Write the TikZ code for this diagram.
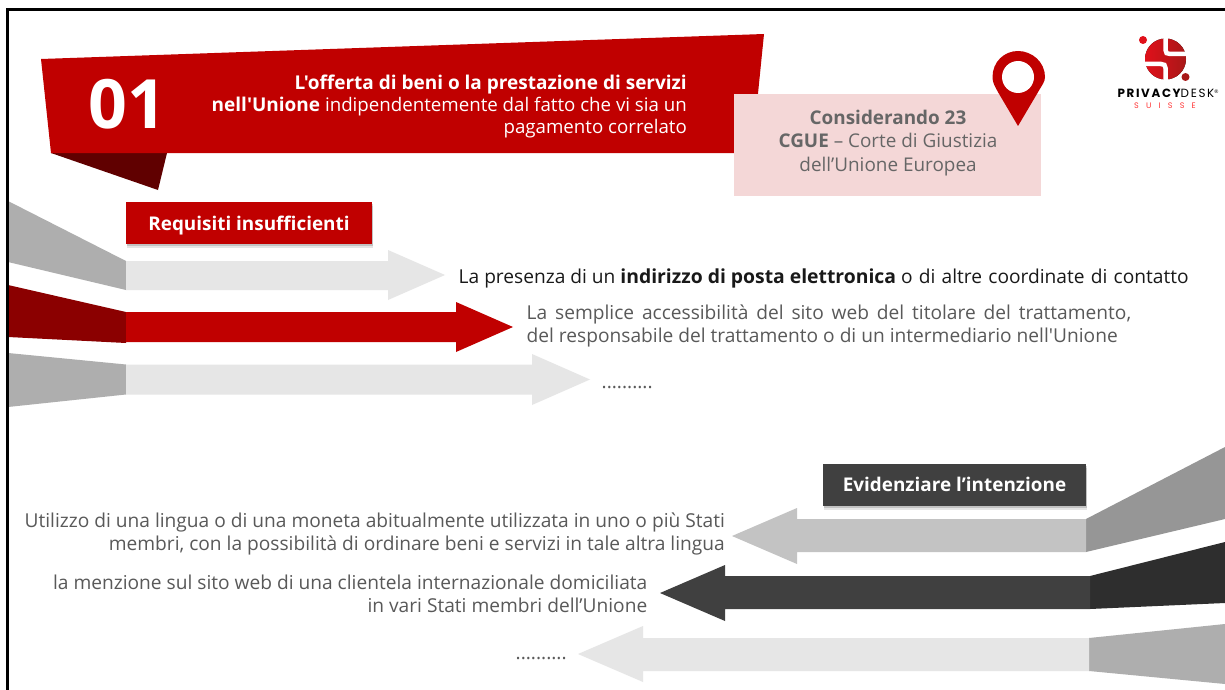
\documentclass[tikz,border=0pt]{standalone}
\usepackage{fontspec}
\setmainfont{Open Sans}[Ligatures=TeXOff]
\newfontfamily\logofont[LetterSpace=14]{Poppins}
\newfontfamily\logofontb[LetterSpace=90]{Poppins}
\usetikzlibrary{shadows}
\definecolor{bred}{HTML}{C00000}
\definecolor{dred}{HTML}{8B0000}
\definecolor{fold}{HTML}{600000}
\definecolor{pinkbg}{HTML}{F4D7D7}
\definecolor{lgray}{HTML}{E6E6E6}
\definecolor{mgray}{HTML}{AEAEAE}
\definecolor{sgray}{HTML}{C3C3C3}
\definecolor{tgray}{HTML}{969696}
\definecolor{dgray}{HTML}{404040}
\definecolor{xgray}{HTML}{2E2E2E}
\definecolor{txt}{HTML}{595959}
\definecolor{txtb}{HTML}{666666}
\definecolor{logoa}{HTML}{E0101A}
\definecolor{logob}{HTML}{A81818}
\tikzset{
  x=1pt,y=-1pt,
  lab/.style={font=\fontsize{19.15}{22.4}\selectfont,inner sep=0pt},
  darktxt/.style={lab,text=txt},
  tagbox/.style={minimum height=42pt,inner sep=0pt,text=white,font=\fontsize{18.9}{22}\selectfont\bfseries,
    drop shadow={shadow xshift=1pt,shadow yshift=-3.5pt,opacity=.1,fill=black},
    drop shadow={shadow xshift=.5pt,shadow yshift=-2pt,opacity=.15,fill=black}},
}
\begin{document}
\begin{tikzpicture}
\useasboundingbox (0,0) rectangle (1225,690);
\fill[white] (0,0) rectangle (1225,690);
% banner
\fill[fold] (51,153) -- (167,153) -- (158,190) -- cycle;
\fill[bred] (41,59) -- (764,34) -- (752,153) -- (51,153) -- cycle;
\node[text=white,font=\fontsize{68}{68}\selectfont\bfseries,inner sep=0pt] (num) at (127,104.5) {01};
\node[lab,text=white,align=right,anchor=east,font=\fontsize{18.7}{22}\selectfont] (title) at (687,106)
  {{\fontsize{19}{22}\selectfont\bfseries L'offerta di beni o la prestazione di servizi}\\
   {\fontsize{19}{22}\selectfont\bfseries nell'Unione} indipendentemente dal fatto che vi sia un\\
   pagamento correlato};
% pink box and pin
\fill[pinkbg] (734,94) rectangle (1040.5,195.5);
\node[lab,text=txtb,align=center,font=\fontsize{18.9}{23.5}\selectfont] (cons) at (888,143)
  {\textbf{Considerando 23}\\ \textbf{CGUE} – Corte di Giustizia\\ dell’Unione Europea};
\fill[bred] (1018,126) -- (998.5,93) .. controls (994,85) and (992.5,82) .. (992.5,77)
  .. controls (992.5,62) and (1004,51) .. (1018,51)
  .. controls (1032,51) and (1045,62) .. (1045,77)
  .. controls (1045,82) and (1042,85) .. (1037.5,93) -- cycle;
\fill[white] (1018,77) circle[radius=16];
% logo
\fill[left color=logoa,right color=logob] (1165.5,59) circle[radius=20.5];
\fill[logoa] (1143,40) circle[radius=4];
\fill[logob] (1185.5,77) circle[radius=4];
\draw[white,line width=4.5pt] (1165.5,36) -- (1165.5,50) .. controls (1165.5,53) and (1167,54) .. (1170,54) -- (1189,54);
\draw[white,line width=4.5pt] (1142,64) -- (1161,64) .. controls (1164,64) and (1165.5,65) .. (1165.5,68) -- (1165.5,82);
\node[inner sep=0pt,font=\fontsize{11.9}{12}\selectfont,anchor=base] (logotxt) at (1168,97.5)
  {{\logofont\bfseries PRIVACY}{\logofont DESK}\raisebox{4pt}{\fontsize{5}{5}\selectfont ®}};
\node[inner sep=0pt,text=red!80,font=\fontsize{8}{8}\selectfont,anchor=base] (logosub) at (1165,108.5)
  {\logofontb SUISSE};
% upper arrows
\fill[mgray] (8,201) -- (126,261) -- (126,290) -- (8,262) -- cycle;
\fill[lgray] (126,261) -- (388,261) -- (388,250) -- (445,275) -- (388,300) -- (388,290) -- (126,290) -- cycle;
\fill[dred] (8,285) -- (126,312) -- (126,343) -- (8,337) -- cycle;
\fill[bred] (126,312) -- (456,312) -- (456,302) -- (513,327) -- (456,352) -- (456,342) -- (126,342) -- cycle;
\fill[mgray] (8,353) -- (126,364.5) -- (126,394.5) -- (8,407) -- cycle;
\fill[lgray] (126,364.5) -- (532,364.5) -- (532,354) -- (590,379.5) -- (532,405) -- (532,394.5) -- (126,394.5) -- cycle;
\node[tagbox,fill=bred,minimum width=246pt,text height=16pt,text depth=2pt] (req) at (249,223) {Requisiti insufficienti};
\node[lab,text=black!90,anchor=base west] (t1) at (458.5,283)
  {La presenza di un {\fontsize{19.35}{22}\selectfont\bfseries indirizzo di posta elettronica} \makebox[287.5pt][s]{o di altre coordinate di contatto}};
\node[darktxt,anchor=base west] (t2a) at (526.5,319)
  {\makebox[604.5pt][s]{La semplice accessibilità del sito web del titolare del trattamento,}};
\node[darktxt,anchor=base west] (t2b) at (526.5,342)
  {del responsabile del trattamento o di un intermediario nell'Unione};
\node[darktxt,anchor=base west] (t3) at (601.5,388) {..........};
% lower arrows
\fill[tgray] (1086,519) -- (1225,447) -- (1225,519) -- (1086,552) -- cycle;
\fill[sgray] (1086,519) -- (797,519) -- (797,508) -- (732,536) -- (797,564) -- (797,552) -- (1086,552) -- cycle;
\fill[xgray] (1090,576) -- (1225,542) -- (1225,603) -- (1090,609) -- cycle;
\fill[dgray] (1090,576) -- (725,576) -- (725,565) -- (660,593) -- (725,621) -- (725,609) -- (1090,609) -- cycle;
\fill[mgray] (1089,638) -- (1225,624) -- (1225,684) -- (1089,671) -- cycle;
\fill[lgray] (1089,638) -- (643,638) -- (643,626) -- (578,654) -- (643,682) -- (643,671) -- (1089,671) -- cycle;
\node[tagbox,fill=dgray,minimum width=263pt,text height=14pt,text depth=2pt] (evi) at (954.5,485) {Evidenziare l’intenzione};
\node[darktxt,align=right,anchor=east] (t4) at (725,534)
  {Utilizzo di una lingua o di una moneta abitualmente utilizzata in uno o più Stati\\
   membri, con la possibilità di ordinare beni e servizi in tale altra lingua};
\node[darktxt,align=right,anchor=east] (t5) at (647.5,594)
  {la menzione sul sito web di una clientela internazionale domiciliata\\
   in vari Stati membri dell’Unione};
\node[darktxt,anchor=base west] (t6) at (515.5,659.5) {..........};
% frame
\draw[black,line width=3pt] (1225,9.5) -- (7.5,9.5) -- (7.5,690);
\end{tikzpicture}
\end{document}
